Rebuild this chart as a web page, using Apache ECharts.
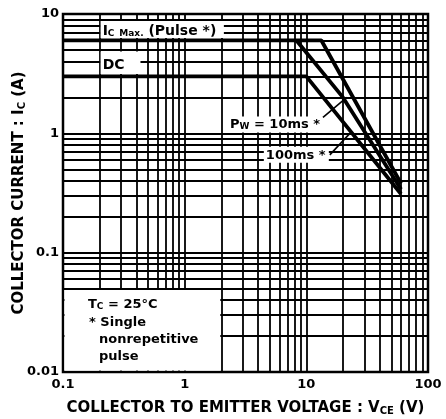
<!DOCTYPE html>
<html><head><meta charset="utf-8">
<script src="https://cdn.jsdelivr.net/npm/echarts@6/dist/echarts.min.js"></script>
<style>html,body{margin:0;padding:0;background:#fff}#c{width:446px;height:419px}</style>
</head><body><div id="c"></div>
<script>
// ---- data ----
const xTickValues = [0.1, 1, 10, 100];
const xTickLabels = ['0.1', '1', '10', '100'];
const yTickValues = [0.01, 0.1, 1, 10];
const yTickLabels = ['0.01', '0.1', '1', '10'];
const gridX = [0.1,0.2,0.3,0.4,0.5,0.6,0.7,0.8,0.9,1,2,3,4,5,6,7,8,9,10,20,30,40,50,60,70,80,90,100];
const gridY = [0.01,0.02,0.03,0.04,0.05,0.06,0.07,0.08,0.09,0.1,0.2,0.3,0.4,0.5,0.6,0.7,0.8,0.9,1,2,3,4,5,6,7,8,9,10];
// Ic max (pulse) and Pw = 10 ms limit
const pulse10ms = [[0.1, 6], [13.3, 6], [60, 0.38]];
// Pw = 100 ms limit
const pulse100ms = [[8.3, 6], [20, 2], [60, 0.34]];
// DC limit
const dcLine = [[0.1, 3], [10, 3], [60, 0.31]];

const FONT = '"DejaVu Sans", "Liberation Sans", sans-serif';
const chart = echarts.init(document.getElementById('c'), null, {renderer: 'canvas'});

function tickLabel(values, labels) {
  return function (v) {
    for (let i = 0; i < values.length; i++) {
      if (Math.abs(Math.log10(v) - Math.log10(values[i])) < 1e-6) return labels[i];
    }
    return '';
  };
}

const curveStyle = {color: '#000', width: 3.8};
const curve = (data) => ({
  type: 'line', data: data, symbol: 'none', z: 10, silent: true,
  lineStyle: curveStyle, animation: false
});
const subStyle = {fontSize: 10, fontFamily: FONT, fontWeight: 'bold', color: '#000', padding: [5, 0, 0, 0]};

chart.setOption({
  animation: false,
  backgroundColor: '#fff',
  grid: {left: 63, top: 14, width: 365, height: 358, show: true, borderColor: '#000', borderWidth: 2.5,
         backgroundColor: 'transparent', containLabel: false, outerBoundsMode: 'none'},
  xAxis: {
    type: 'log', logBase: 10, min: 0.1, max: 100,
    axisLine: {show: false}, axisTick: {show: false}, splitLine: {show: false},
    axisLabel: {formatter: tickLabel(xTickValues, xTickLabels), color: '#000', fontFamily: FONT, fontWeight: 'bold', fontSize: 13, margin: 6},
    name: 'COLLECTOR TO EMITTER VOLTAGE : V{s|CE} (V)',
    nameLocation: 'middle', nameGap: 29,
    nameTextStyle: {color: '#000', fontFamily: FONT, fontWeight: 'bold', fontSize: 15, rich: {s: subStyle}}
  },
  yAxis: {
    type: 'log', logBase: 10, min: 0.01, max: 10,
    axisLine: {show: false}, axisTick: {show: false}, splitLine: {show: false},
    axisLabel: {formatter: tickLabel(yTickValues, yTickLabels), color: '#000', fontFamily: FONT, fontWeight: 'bold', fontSize: 13, margin: 4},
    name: 'COLLECTOR CURRENT : I{s|C} (A)',
    nameLocation: 'middle', nameGap: 36, nameRotate: 90, nameMoveOverlap: false,
    nameTextStyle: {color: '#000', fontFamily: FONT, fontWeight: 'bold', fontSize: 15, rich: {s: subStyle}}
  },
  series: [
    {
      type: 'line', data: [], z: 1, silent: true,
      markLine: {
        silent: true, symbol: ['none', 'none'], animation: false,
        label: {show: false},
        lineStyle: {color: '#000', width: 1.8, type: 'solid'},
        emphasis: {disabled: true},
        data: gridX.map(v => ({xAxis: v})).concat(gridY.map(v => ({yAxis: v})))
      }
    },
    curve(pulse10ms),
    curve(pulse100ms),
    curve(dcLine)
  ]
});

const P = (x, y) => chart.convertToPixel({xAxisIndex: 0, yAxisIndex: 0}, [x, y]);
const txt = (x, y, text, rich, size) => ({
  type: 'text', z: 30, silent: true,
  style: {x: x, y: y, text: text, fill: '#000', font: 'bold ' + (size || 13) + 'px ' + FONT, textAlign: 'left', textVerticalAlign: 'middle', rich: rich || {}}
});
const box = (x0, y0, x1, y1) => ({
  type: 'rect', z: 20, silent: true,
  shape: {x: Math.min(x0, x1), y: Math.min(y0, y1), width: Math.abs(x1 - x0), height: Math.abs(y1 - y0)},
  style: {fill: '#fff'}
});
const line = (a, b) => ({
  type: 'line', z: 30, silent: true,
  shape: {x1: a[0], y1: a[1], x2: b[0], y2: b[1]},
  style: {stroke: '#000', lineWidth: 1.6}
});
const subRich = {s: {fontSize: 9, fontFamily: FONT, fontWeight: 'bold', fill: '#000', padding: [5, 0, 0, 0]},
                 m: {fontSize: 9, fontFamily: FONT, fontWeight: 'bold', fill: '#000', padding: [5, 0, 0, 0]}};

// anchors in data space
const a9 = P(0.2, 9), a6 = P(2.1, 6);
const d5 = P(0.2, 5), d3 = P(0.45, 3);
const bl = P(0.1, 0.05), br = P(2, 0.01);
const l10a = P(13.7, 1.36), l10b = P(21.5, 2.0);
const l100a = P(15.6, 0.66), l100b = P(22.8, 1.0);

chart.setOption({
  graphic: [
    box(a9[0] + 1, a9[1] + 1.5, a6[0], a6[1] - 2.5),
    txt(a9[0] + 3, (a9[1] + a6[1]) / 2 + 1, 'I{s|C} {m|Max.} (Pulse *)', subRich, 14),
    box(d5[0] + 1, d5[1] + 1.5, d3[0] - 2, d3[1] - 2.5),
    txt(d5[0] + 3, (d5[1] + d3[1]) / 2 + 2, 'DC', null, 14),
    box(l10a[0] - 96, l10a[1] - 1, l10a[0] - 1, l10a[1] + 15),
    txt(l10a[0] - 93, l10a[1] + 7, 'P{s|W} = 10ms *', subRich),
    line(l10a, l10b),
    box(l100a[0] - 66, l100a[1] - 8, l100a[0] - 1, l100a[1] + 8),
    txt(l100a[0] - 64, l100a[1] + 1, '100ms *'),
    line(l100a, l100b),
    box(bl[0] + 1.5, bl[1] + 1.5, br[0] - 1, br[1] - 1.5),
    txt(bl[0] + 25, bl[1] + 16, 'T{s|C} = 25°C', subRich),
    txt(bl[0] + 26, bl[1] + 34, '* Single'),
    txt(bl[0] + 36, bl[1] + 51, 'nonrepetitive'),
    txt(bl[0] + 36, bl[1] + 68, 'pulse')
  ]
});
</script></body></html>
